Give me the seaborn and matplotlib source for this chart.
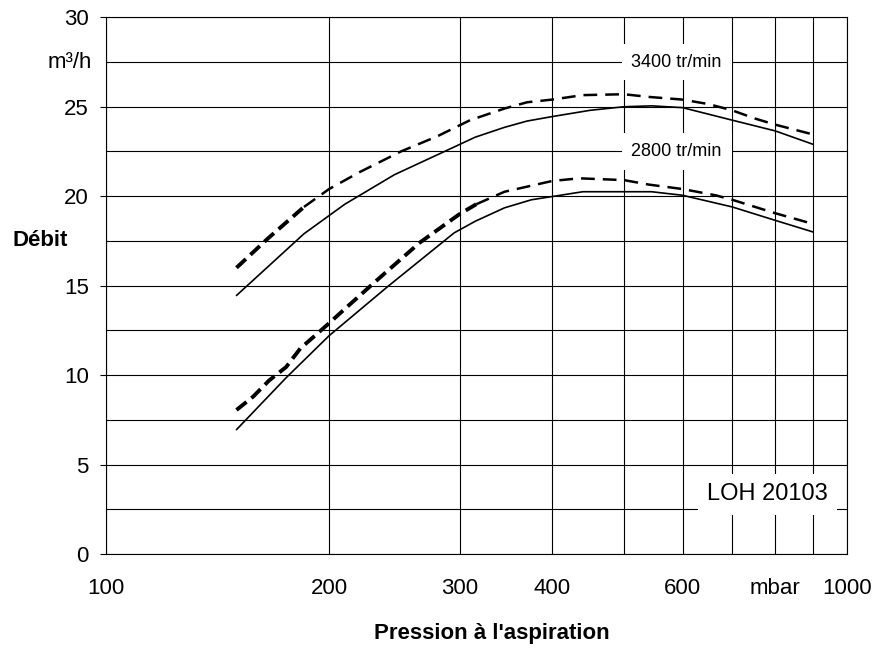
import numpy as np
import pandas as pd
import matplotlib
matplotlib.use("Agg")
import matplotlib.pyplot as plt
import matplotlib.transforms as mtransforms
from matplotlib.ticker import FixedLocator, NullFormatter
import seaborn as sns

# ---------------- data ----------------
p_3400_dash = [150, 165, 185, 200, 220, 250, 280, 310, 345, 370, 400, 440, 500, 540, 600, 650, 700, 750, 800, 900]
q_3400_dash = [16.0, 17.6, 19.4, 20.4, 21.35, 22.5, 23.35, 24.25, 24.9, 25.25, 25.4, 25.65, 25.7, 25.55, 25.4, 25.15, 24.8, 24.35, 24.0, 23.45]

p_3400_solid = [150, 185, 210, 245, 295, 315, 345, 370, 400, 450, 500, 545, 600, 700, 800, 900]
q_3400_solid = [14.45, 17.9, 19.55, 21.2, 22.75, 23.3, 23.85, 24.2, 24.45, 24.8, 25.0, 25.05, 24.95, 24.25, 23.65, 22.9]

p_2800_dash = [150, 158, 166, 175, 183, 192, 200, 212, 232, 265, 300, 316, 345, 400, 435, 500, 540, 600, 665, 700, 800, 900]
q_2800_dash = [8.05, 8.8, 9.7, 10.45, 11.5, 12.25, 12.9, 13.85, 15.3, 17.4, 19.0, 19.55, 20.25, 20.85, 21.0, 20.9, 20.65, 20.4, 20.05, 19.8, 19.05, 18.45]

p_2800_solid = [150, 175, 200, 240, 295, 315, 345, 375, 410, 440, 545, 600, 700, 800, 900]
q_2800_solid = [6.95, 9.85, 12.2, 14.95, 17.95, 18.6, 19.35, 19.8, 20.05, 20.25, 20.25, 20.05, 19.4, 18.65, 18.0]

x_tick_values = [100, 200, 300, 400, 600, 800, 1000]
x_tick_labels = ["100", "200", "300", "400", "600", "mbar", "1000"]
x_minor_values = [500, 700, 900]
y_tick_values = [0, 5, 10, 15, 20, 25, 30]
y_minor_values = [2.5, 7.5, 12.5, 17.5, 22.5, 27.5]

label_3400 = "3400 tr/min"
label_2800 = "2800 tr/min"
label_model = "LOH 20103"
x_title = "Pression à l'aspiration"
y_title = "Débit"
y_unit = "m³/h"

# thick-dash part lengths (number of points drawn with heavy dashes)
n_thick_3400 = 3
n_thick_2800 = 12

# ---------------- style ----------------
sns.set_theme(style="white")
plt.rcParams["font.family"] = ["Liberation Sans", "DejaVu Sans"]

fig = plt.figure(figsize=(8.8, 6.51), dpi=100)
ax = fig.add_axes([106 / 880, 1 - 554 / 651, 741 / 880, (554 - 17.3) / 651])

def df(x, y):
    return pd.DataFrame({"p": x, "q": y})

solid_kw = dict(color="black", linewidth=1.2, estimator=None, sort=False)
thin_dash = dict(color="black", linewidth=1.8, linestyle=(0, (5.5, 3.2)), estimator=None, sort=False)
thick_dash = dict(color="black", linewidth=2.8, linestyle=(0, (3.3, 1.6)), estimator=None, sort=False)

sns.lineplot(data=df(p_3400_solid, q_3400_solid), x="p", y="q", ax=ax, **solid_kw)
sns.lineplot(data=df(p_2800_solid, q_2800_solid), x="p", y="q", ax=ax, **solid_kw)

sns.lineplot(data=df(p_3400_dash[:n_thick_3400], q_3400_dash[:n_thick_3400]), x="p", y="q", ax=ax, **thick_dash)
sns.lineplot(data=df(p_3400_dash[n_thick_3400 - 1:], q_3400_dash[n_thick_3400 - 1:]), x="p", y="q", ax=ax, **thin_dash)
sns.lineplot(data=df(p_2800_dash[:n_thick_2800], q_2800_dash[:n_thick_2800]), x="p", y="q", ax=ax, **thick_dash)
sns.lineplot(data=df(p_2800_dash[n_thick_2800 - 1:], q_2800_dash[n_thick_2800 - 1:]), x="p", y="q", ax=ax, **thin_dash)

ax.set_xscale("log")
ax.set_xlim(100, 1000)
ax.set_ylim(0, 30)

ax.xaxis.set_major_locator(FixedLocator(x_tick_values))
ax.set_xticklabels(x_tick_labels)
ax.xaxis.set_minor_locator(FixedLocator(x_minor_values))
ax.xaxis.set_minor_formatter(NullFormatter())
ax.yaxis.set_major_locator(FixedLocator(y_tick_values))
ax.set_yticklabels([str(v) for v in y_tick_values])
ax.yaxis.set_minor_locator(FixedLocator(y_minor_values))
ax.yaxis.set_minor_formatter(NullFormatter())

ax.grid(True, which="both", color="black", linewidth=0.8)
ax.set_axisbelow(True)
for s in ax.spines.values():
    s.set_color("black")
    s.set_linewidth(0.8)
    s.set_visible(True)

ax.tick_params(axis="x", which="both", length=0, pad=17, labelsize=16, colors="black")
ax.tick_params(axis="y", which="major", length=4.5, width=0.8, direction="out", pad=8, labelsize=16, colors="black", left=True)
ax.tick_params(axis="y", which="minor", length=0)

ax.set_xlabel(x_title, fontsize=16, fontweight="bold", color="black", va="center")
ax.xaxis.set_label_coords((492 - 106) / 741, -(634 - 554) / 536.7)
ax.set_ylabel(y_title, fontsize=16, fontweight="bold", color="black", rotation=0, ha="left", va="center")
ax.yaxis.set_label_coords(-(106 - 12) / 741, 17.5 / 30)

trans = mtransforms.blended_transform_factory(ax.transAxes, ax.transData)
ax.text(-(106 - 92) / 741, 27.5, y_unit, transform=trans, ha="right", va="center", fontsize=16, color="black")

box = dict(boxstyle="square,pad=0.55", facecolor="white", edgecolor="none")
ax.text(589, 27.5, label_3400, ha="center", va="center", fontsize=13, color="black", bbox=box, zorder=5)
ax.text(589, 22.5, label_2800, ha="center", va="center", fontsize=13, color="black", bbox=box, zorder=5)
box2 = dict(boxstyle="square,pad=0.4", facecolor="white", edgecolor="none")
ax.text(781, 3.35, label_model, ha="center", va="center", fontsize=17, color="black", bbox=box2, zorder=5)

fig.savefig("out.png", dpi=100, facecolor="white")
